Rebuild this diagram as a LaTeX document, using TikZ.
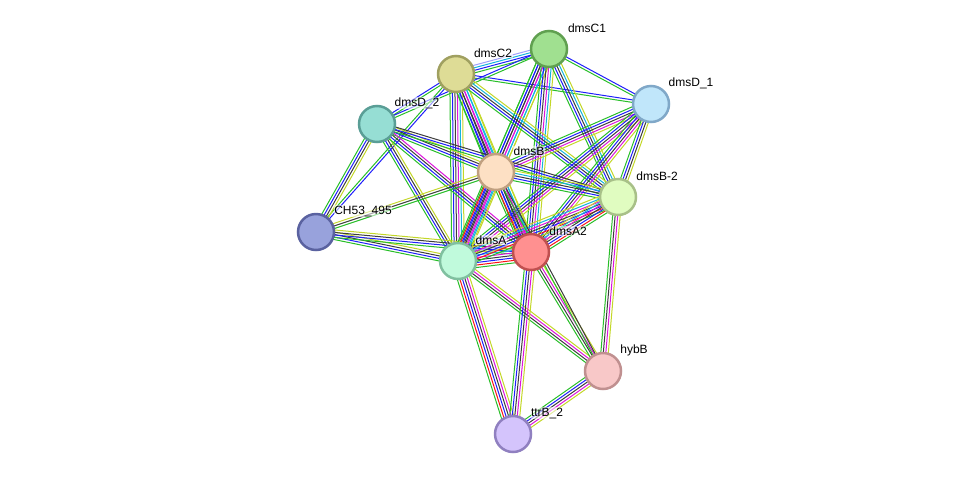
\documentclass[tikz,border=0pt]{standalone}
\usepackage{fontspec}
\setmainfont{Liberation Sans}
\usetikzlibrary{calc}
\pgfdeclarelayer{background}
\pgfsetlayers{background,main}
\definecolor{sg}{RGB}{40,190,40}
\definecolor{sr}{RGB}{250,20,20}
\definecolor{sb}{RGB}{30,30,250}
\definecolor{sk}{RGB}{60,60,60}
\definecolor{sm}{RGB}{220,20,220}
\definecolor{sc}{RGB}{20,180,220}
\definecolor{sy}{RGB}{195,215,40}
\definecolor{sl}{RGB}{160,160,250}
\tikzset{
  prot/.style={circle, minimum size=36pt, inner sep=0pt, line width=2.5pt},
  lab/.style={font=\fontsize{12}{14}\selectfont, inner sep=0.5pt, fill=white, fill opacity=0.55, text opacity=1},
  eline/.style={line width=1.0pt}
}
\newcommand\sedge[3]{%
  \gdef\ncount{0}%
  \foreach \cc in {#3}{\xdef\ncount{\the\numexpr\ncount+1\relax}}%
  \foreach \cc [count=\ii] in {#3}{%
    \pgfmathsetmacro\off{(\ii-(\ncount+1)/2)*2.5}%
    \draw[eline, color=\cc] ($(#1.center)!\off pt!90:(#2.center)$) -- ($(#2.center)!\off pt!-90:(#1.center)$);
  }%
}
\begin{document}
\begin{tikzpicture}[x=1pt,y=-1pt]
\useasboundingbox (0,0) rectangle (976,480);
% nodes
\node[prot, fill={rgb,255:red,160;green,224;blue,144}, draw={rgb,255:red,96;green,160;blue,80}] (C1) at (549,49) {};
\node[prot, fill={rgb,255:red,222;green,220;blue,150}, draw={rgb,255:red,160;green,160;blue,96}] (C2) at (456,74) {};
\node[prot, fill={rgb,255:red,192;green,230;blue,250}, draw={rgb,255:red,128;green,168;blue,200}] (D1) at (651,104) {};
\node[prot, fill={rgb,255:red,150;green,222;blue,212}, draw={rgb,255:red,90;green,158;blue,150}] (D2) at (377,124) {};
\node[prot, fill={rgb,255:red,253;green,224;blue,196}, draw={rgb,255:red,192;green,160;blue,128}] (B) at (496,172) {};
\node[prot, fill={rgb,255:red,224;green,252;blue,192}, draw={rgb,255:red,168;green,192;blue,136}] (B2) at (618,197) {};
\node[prot, fill={rgb,255:red,152;green,162;blue,220}, draw={rgb,255:red,90;green,98;blue,160}] (CH) at (316,232) {};
\node[prot, fill={rgb,255:red,192;green,250;blue,220}, draw={rgb,255:red,128;green,192;blue,160}] (A) at (458,261) {};
\node[prot, fill={rgb,255:red,255;green,144;blue,144}, draw={rgb,255:red,192;green,80;blue,80}] (A2) at (531,252) {};
\node[prot, fill={rgb,255:red,248;green,200;blue,200}, draw={rgb,255:red,192;green,144;blue,144}] (H) at (603,371) {};
\node[prot, fill={rgb,255:red,212;green,196;blue,252}, draw={rgb,255:red,144;green,128;blue,192}] (T) at (513,434) {};
% edges
\begin{pgfonlayer}{background}
\sedge{C2}{C1}{sg,sb,sc,sl}
\sedge{C2}{D1}{sg,sb}
\sedge{C1}{D1}{sg,sb}
\sedge{D2}{C2}{sg,sb}
\sedge{D2}{C1}{sg,sb}
\sedge{C2}{CH}{sg,sb}
\sedge{C2}{B}{sg,sb,sk,sm,sc,sy}
\sedge{C1}{B}{sg,sb,sk,sm,sc,sy}
\sedge{C2}{A}{sg,sb,sk,sm,sc,sy}
\sedge{C1}{A}{sg,sb,sk,sm,sc,sy}
\sedge{C1}{A2}{sg,sb,sk,sm,sc,sy}
\sedge{C2}{A2}{sg,sb,sk,sm,sc,sy}
\sedge{C1}{B2}{sg,sb,sk,sc,sy}
\sedge{C2}{B2}{sg,sb,sk,sc,sy}
\sedge{D1}{B}{sg,sb,sk,sm,sy}
\sedge{D1}{A}{sg,sb,sk,sm,sy}
\sedge{D1}{A2}{sg,sb,sk,sm,sy}
\sedge{D1}{B2}{sg,sb,sk,sy}
\sedge{D2}{B}{sg,sb,sk,sy}
\sedge{D2}{B2}{sg,sb,sk}
\sedge{D2}{A}{sg,sb,sk,sy}
\sedge{D2}{A2}{sg,sb,sk,sm}
\sedge{D2}{CH}{sg,sb,sk,sy}
\sedge{CH}{A}{sg,sb,sk,sy}
\sedge{CH}{A2}{sg,sb,sk,sy}
\sedge{CH}{B}{sg,sk,sy}
\sedge{B}{A}{sg,sr,sb,sk,sm,sc,sy}
\sedge{B}{A2}{sg,sr,sb,sk,sm,sc,sy}
\sedge{B}{B2}{sg,sb,sk,sc,sy}
\sedge{A}{A2}{sg,sr,sb,sk,sm,sc,sy,sl}
\sedge{A}{B2}{sg,sr,sb,sk,sm,sc,sy}
\sedge{A2}{B2}{sg,sr,sb,sk,sm,sc,sy}
\sedge{A}{H}{sg,sk,sm,sy}
\sedge{A2}{H}{sg,sk,sm,sy}
\sedge{B}{H}{sg,sk}
\sedge{B2}{H}{sg,sk,sm,sy}
\sedge{A}{T}{sg,sr,sb,sk,sm,sy}
\sedge{A2}{T}{sg,sb,sk,sm,sy}
\sedge{H}{T}{sg,sb,sk,sm,sy}
\end{pgfonlayer}
% labels
\node[lab] (lC1) at (587,28) {dmsC1};
\node[lab] (lC2) at (493,53) {dmsC2};
\node[lab] (lD1) at (691,83) {dmsD\_1};
\node[lab] (lD2) at (417,103) {dmsD\_2};
\node[lab] (lB) at (529,151) {dmsB};
\node[lab] (lB2) at (657,176) {dmsB-2};
\node[lab] (lCH) at (363,211) {CH53\_495};
\node[lab] (lA) at (491,240) {dmsA};
\node[lab] (lA2) at (568,231) {dmsA2};
\node[lab] (lH) at (634,350) {hybB};
\node[lab] (lT) at (547,413) {ttrB\_2};
\end{tikzpicture}
\end{document}
